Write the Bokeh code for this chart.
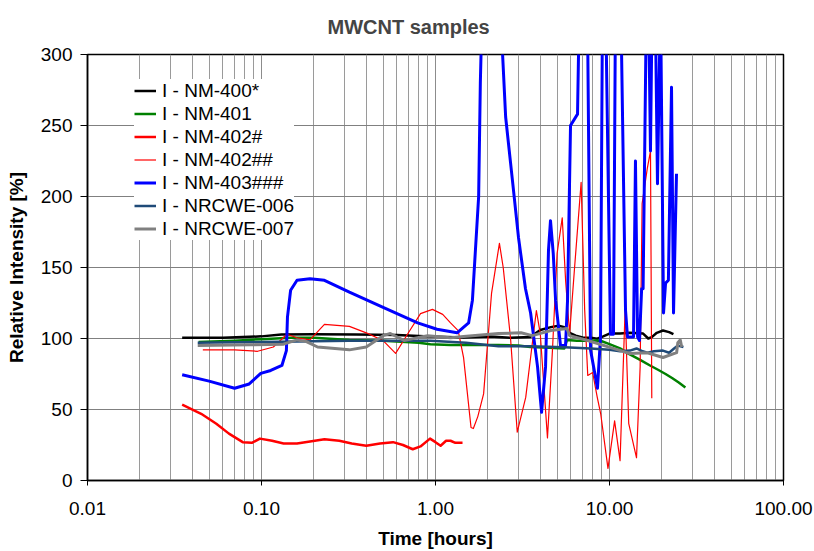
from bokeh.plotting import figure
from bokeh.models import Range1d, FixedTicker, Legend, LegendItem
from bokeh.embed import file_html
from bokeh.resources import INLINE

FONT = "Liberation Sans"

x_ticks = [0.01, 0.1, 1.0, 10.0, 100.0]
x_tick_labels = ["0.01", "0.10", "1.00", "10.00", "100.00"]
x_minor = [k * 10.0 ** e for e in range(-2, 2) for k in range(2, 10)]
y_ticks = [0, 50, 100, 150, 200, 250, 300]

labels = ["I - NM-400*", "I - NM-401", "I - NM-402#", "I - NM-402##",
          "I - NM-403###", "I - NRCWE-006", "I - NRCWE-007"]
colors = ["#000000", "#008000", "#FF0000", "#FF0000", "#0000FF", "#1F4A78", "#808080"]
widths = [2.5, 2.5, 2.5, 1.2, 3.0, 2.5, 3.0]

t_400 = [0.035, 0.06, 0.1, 0.13, 0.2, 0.35, 0.6, 0.93, 1.45, 2.06, 2.7, 3.5, 4.0, 4.6, 5.1,
         5.5, 5.9, 6.4, 7.0, 7.8, 8.5, 9.2, 10.0, 11.5, 13.1, 15.6, 16.7, 17.5, 18.7, 20.3,
         22.0, 23.3]
v_400 = [100.5, 100.5, 101.5, 102.8, 103, 102.8, 102.5, 101.4, 100.7, 101.4, 100.5, 101,
         106, 108, 109, 108, 104, 102, 100.7, 100.5, 99.8, 101.5, 103.5, 103.5, 104, 103.5,
         100, 101, 104, 105.6, 104.5, 103]

t_401 = [0.0435, 0.07, 0.1, 0.147, 0.2, 0.32, 0.5, 0.8, 0.935, 1.22, 1.6, 2.3, 3.0, 3.5,
         4.5, 5.5, 5.7, 6.5, 7.5, 8.8, 10.0, 11.5, 13.0, 15.0, 17.1, 19.0, 21.0, 23.0, 25.0,
         27.3]
v_401 = [97.5, 98.5, 99.5, 100.5, 100.5, 99, 98.5, 97, 96, 95.5, 95.5, 95.5, 95, 94, 93.5,
         93, 99, 98.5, 98.5, 98.6, 96, 93, 89, 85, 81, 78, 75, 72, 69, 65.5]

t_402a = [0.035, 0.045, 0.055, 0.065, 0.078, 0.088, 0.098, 0.115, 0.134, 0.16, 0.19, 0.23,
          0.28, 0.33, 0.40, 0.48, 0.57, 0.65, 0.74, 0.82, 0.93, 1.0, 1.07, 1.15, 1.22, 1.3,
          1.43]
v_402a = [53.5, 47, 40, 33, 27, 26.5, 29.5, 28, 26, 26, 27.5, 29, 28, 26, 24.5, 26, 27, 25,
          22, 24, 29.5, 27, 24.5, 28, 28, 26.5, 26.5]

t_402b = [0.046, 0.07, 0.095, 0.117, 0.14, 0.16, 0.19, 0.23, 0.32, 0.40, 0.50, 0.59, 0.69,
          0.82, 0.96, 1.1, 1.22, 1.35, 1.45, 1.6, 1.65, 1.75, 1.89, 2.1, 2.33, 2.45, 2.7,
          2.95, 3.3, 3.6, 3.8, 4.0, 4.4, 4.7, 5.0, 5.35, 5.6, 5.9, 6.3, 6.87, 7.2, 7.5, 8.0,
          8.5, 8.9, 9.8, 10.7, 11.5, 12.3, 12.9, 14.3, 15.0, 15.4, 16.5, 17.2, 17.5]
v_402b = [92, 92, 91, 94, 103, 100.5, 99, 110, 108.5, 104, 98.5, 89.5, 103, 117.5, 120.5,
          117, 111, 105.5, 86.5, 37.3, 36.6, 45, 61, 132, 167, 150, 100, 34, 58.5, 96.5,
          119.7, 103.5, 30, 91.5, 160, 185, 140, 103.5, 150, 210, 120, 74, 76, 58.7, 47, 8.5,
          42, 14, 121, 40, 16, 80, 195, 220, 232, 58]

t_403 = [0.035, 0.05, 0.07, 0.085, 0.099, 0.113, 0.131, 0.139, 0.141, 0.147, 0.16, 0.19,
         0.23, 0.32, 0.5, 0.79, 1.02, 1.33, 1.55, 1.63, 1.77, 1.81, 1.86, 2.1, 2.36, 2.43,
         2.53, 2.77, 3.0, 3.29, 3.52, 3.86, 4.07, 4.29, 4.46, 4.58, 4.75, 4.9, 5.23, 5.59,
         5.74, 5.97, 6.55, 6.72, 7.09, 7.47, 7.78, 8.53, 8.88, 9.12, 9.49, 10.13, 10.54,
         10.83, 11.6, 12.36, 12.69, 13.2, 13.74, 14.1, 14.5, 14.87, 15.3, 15.6, 16.31,
         16.75, 17.2, 17.6, 18.3, 18.87, 19.64, 20.44, 21.0, 21.8, 22.72, 23.33, 24.27]
v_403 = [74.5, 70, 65, 68, 75.4, 77.5, 81, 91.5, 115, 134, 141, 142, 141, 132.6, 122, 111,
         106.5, 104, 111, 127, 200, 280, 340, 360, 330, 300, 256, 211, 171, 135, 118, 80, 48,
         80, 162, 183, 160, 127, 95, 95, 127, 250, 258, 340, 360, 330, 92, 65, 101, 340, 340,
         103, 103, 340, 340, 120, 101, 101, 101, 225, 101, 98.6, 135, 135, 340, 340, 232,
         340, 340, 209, 340, 118, 139, 141, 277, 118, 216]

t_006 = [0.043, 0.1, 0.2, 0.32, 0.5, 0.935, 1.5, 2.3, 3.5, 5.5, 7.8, 10.0, 11.5, 13.1, 14.3,
         15.5, 16.5, 18.0, 20.3, 22.0, 23.5, 24.7, 26.6]
v_006 = [97, 97.5, 98, 98.5, 98.5, 98.5, 97, 94.6, 94.5, 93.9, 93, 92, 91, 91.5, 93, 91, 90,
         91, 91.5, 90, 93, 95, 94]

t_007 = [0.043, 0.087, 0.134, 0.16, 0.18, 0.21, 0.32, 0.40, 0.50, 0.55, 0.66, 0.79, 0.9,
         1.22, 1.45, 2.3, 3.1, 3.6, 4.6, 5.7, 5.9, 7.5, 10.5, 13.1, 16.5, 20.3, 24.3, 24.7,
         25.5, 26.0]
v_007 = [95, 95.6, 96, 99, 98, 94, 92, 94, 102, 103.5, 98.6, 100.6, 102, 100.6, 101.4, 103.5,
         104, 102, 105.6, 107, 102, 98.6, 93, 89.4, 90, 86.6, 90, 97, 99, 94]

series_t = [t_400, t_401, t_402a, t_402b, t_403, t_006, t_007]
series_v = [v_400, v_401, v_402a, v_402b, v_403, v_006, v_007]

p = figure(width=814, height=551, x_axis_type="log",
           x_range=Range1d(0.01, 100), y_range=Range1d(0, 300),
           output_backend="svg", toolbar_location=None,
           min_border_left=87, min_border_right=31, min_border_top=54, min_border_bottom=71)

p.background_fill_color = "white"
p.border_fill_color = "white"
p.outline_line_color = "black"
p.outline_line_width = 1.5

# title
p.title.text = "MWCNT samples"
p.title.align = "left"
p.title.offset = 240
p.title.text_font = FONT
p.title.text_font_size = "20px"
p.title.text_font_style = "bold"
p.title.text_line_height = 1.0
p.title.vertical_align = "top"
p.title.standoff = 29

# x axis
xa = p.xaxis[0]
xa.ticker = FixedTicker(ticks=x_ticks, minor_ticks=x_minor)
xa.major_label_overrides = dict(zip(x_ticks, x_tick_labels))
xa.axis_label = "Time [hours]"
# y axis
ya = p.yaxis[0]
ya.ticker = FixedTicker(ticks=y_ticks)
ya.axis_label = "Relative Intensity [%]"

for ax in (xa, ya):
    ax.axis_line_color = "black"
    ax.axis_line_width = 1.5
    ax.major_tick_line_color = "black"
    ax.major_tick_in = 0
    ax.minor_tick_in = 0
    ax.minor_tick_out = 0
    ax.major_label_text_font = FONT
    ax.major_label_text_font_size = "19px"
    ax.major_label_text_color = "black"
    ax.axis_label_text_font = FONT
    ax.axis_label_text_font_size = "19px"
    ax.axis_label_text_font_style = "bold"
    ax.axis_label_text_color = "black"

xa.major_tick_out = 5
xa.major_label_standoff = 16
xa.axis_label_standoff = 10
ya.major_tick_out = 7
ya.major_label_standoff = 8
ya.axis_label_standoff = 11

p.xgrid.grid_line_color = "#8c8c8c"
p.xgrid.minor_grid_line_color = "#9a9a9a"
p.xgrid.grid_line_width = 1
p.ygrid.grid_line_color = "#808080"
p.ygrid.grid_line_width = 1

items = []
for t, v, lab, c, w in zip(series_t, series_v, labels, colors, widths):
    r = p.line(t, v, line_color=c, line_width=w, line_join="round")
    items.append(LegendItem(label=lab, renderers=[r]))

leg = Legend(items=items, location=(47, 240))
leg.label_text_font = FONT
leg.label_text_font_size = "19px"
leg.label_text_color = "black"
leg.label_standoff = 6
leg.glyph_width = 22
leg.glyph_height = 23
leg.label_height = 23
leg.spacing = 0
leg.padding = 6
leg.margin = 0
leg.border_line_color = None
leg.background_fill_color = "white"
leg.background_fill_alpha = 1.0
p.add_layout(leg, "center")

open("out.html", "w").write(file_html(p, INLINE))
